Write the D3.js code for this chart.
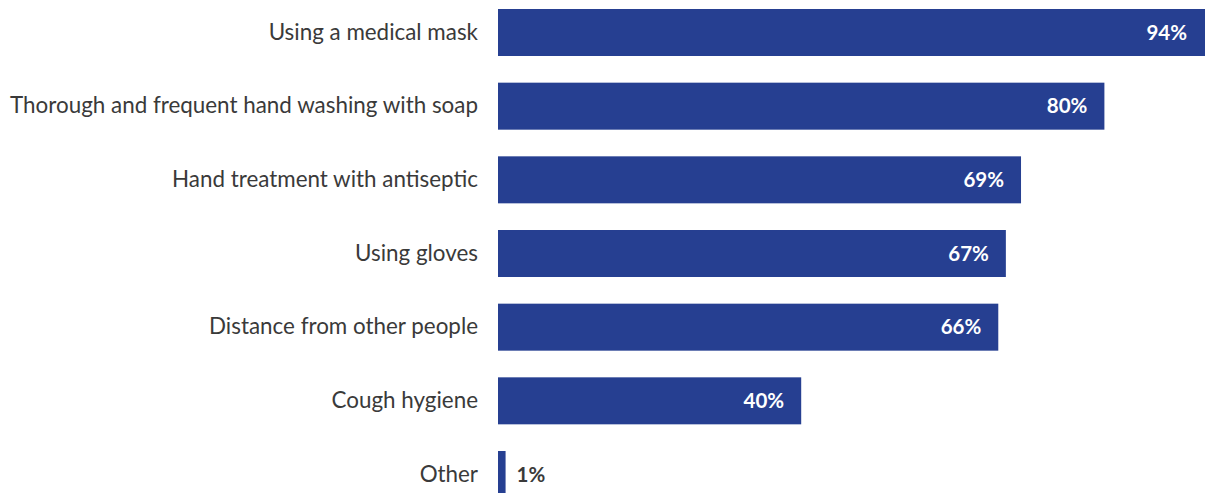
<!DOCTYPE html>
<html>
<head>
<meta charset="utf-8">
<script src="https://cdn.jsdelivr.net/npm/d3@7"></script>
<style>
  html, body { margin: 0; padding: 0; background: #fff; overflow: hidden; }
  svg { display: block; }
  text { font-family: Lato, "Open Sans", sans-serif; }
</style>
</head>
<body>
<svg id="chart" width="1205" height="493"></svg>
<script>
// Preventive measures named by respondents, share in percent
const categories = [
  "Using a medical mask",
  "Thorough and frequent hand washing with soap",
  "Hand treatment with antiseptic",
  "Using gloves",
  "Distance from other people",
  "Cough hygiene",
  "Other"
];
const values = [94, 80, 69, 67, 66, 40, 1];

const svg = d3.select("#chart");
const barColor = "#263f91";
const textColor = "#3a3a3a";

const x = d3.scaleLinear().domain([0, 100]).range([498, 1256]);
const y = d3.scaleBand().domain(categories).range([9, 498])
  .paddingInner(0.362).paddingOuter(0);

const data = categories.map((c, i) => ({ category: c, value: values[i] }));

// bars
svg.append("g").selectAll("rect").data(data).join("rect")
  .attr("x", x(0))
  .attr("y", d => y(d.category))
  .attr("width", d => x(d.value) - x(0))
  .attr("height", y.bandwidth())
  .attr("fill", barColor);

// category labels on the left
const yAxis = d3.axisLeft(y).tickSize(0).tickPadding(20);
const gy = svg.append("g").attr("transform", `translate(${x(0)},0)`).call(yAxis);
gy.select(".domain").remove();
gy.selectAll("text")
  .attr("fill", textColor)
  .style("font-size", "22.4px")
  .style("font-family", "Lato, 'Open Sans', sans-serif");

// value labels: inside the bar when it is wide enough, otherwise just after it
svg.append("g").selectAll("text").data(data).join("text")
  .attr("y", d => y(d.category) + y.bandwidth() / 2)
  .attr("dy", "0.35em")
  .attr("x", d => d.value > 5 ? Math.min(x(d.value), 1204) - 17 : x(d.value) + 11)
  .attr("text-anchor", d => d.value > 5 ? "end" : "start")
  .attr("fill", d => d.value > 5 ? "#ffffff" : textColor)
  .style("font-size", "20.5px")
  .style("font-weight", "bold")
  .text(d => d.value + "%");
</script>
</body>
</html>
